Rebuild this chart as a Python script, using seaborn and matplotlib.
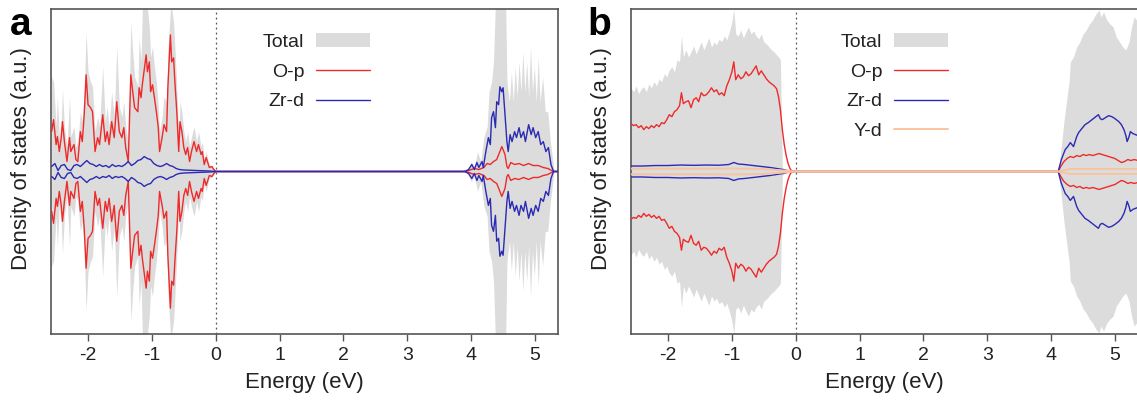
import numpy as np
import matplotlib
matplotlib.use("Agg")
import matplotlib.pyplot as plt
import seaborn as sns

# ---------------- panel a : energies (eV) and DOS (a.u., spin-up magnitude) ----------------
ea_op = [-2.57, -2.54, -2.50, -2.48, -2.45, -2.42, -2.40, -2.37, -2.33, -2.29,
         -2.27, -2.22, -2.19, -2.16, -2.12, -2.09, -2.06, -2.03, -2.00, -1.96,
         -1.93, -1.89, -1.85, -1.82, -1.77, -1.73, -1.70, -1.67, -1.63, -1.59,
         -1.55, -1.51, -1.47, -1.44, -1.41, -1.37, -1.33, -1.30, -1.27, -1.22,
         -1.20, -1.17, -1.15, -1.09, -1.07, -1.04, -1.02, -0.99, -0.96, -0.93,
         -0.90, -0.88, -0.84, -0.81, -0.77, -0.75, -0.71, -0.69, -0.66, -0.64,
         -0.61, -0.58, -0.56, -0.53, -0.50, -0.47, -0.44, -0.41, -0.38, -0.34,
         -0.30, -0.27, -0.23, -0.21, -0.18, -0.15, -0.10, -0.06, -0.03, 0.00,
         3.90, 3.96, 4.05, 4.12, 4.20, 4.25, 4.30, 4.35, 4.40, 4.45,
         4.48, 4.50, 4.53, 4.56, 4.58, 4.62, 4.68, 4.75, 4.82, 4.90,
         4.97, 5.05, 5.13, 5.20, 5.29, 5.36]
a_op = [0.40, 0.52, 0.27, 0.35, 0.20, 0.34, 0.50, 0.30, 0.10, 0.34,
        0.20, 0.27, 0.12, 0.10, 0.40, 0.30, 0.57, 0.97, 0.67, 0.64,
        0.60, 0.20, 0.34, 0.27, 0.57, 0.30, 0.40, 0.27, 0.50, 0.34,
        0.70, 0.40, 0.34, 0.44, 0.24, 0.10, 0.97, 0.80, 0.64, 0.60,
        0.84, 0.74, 0.87, 1.17, 1.00, 1.10, 0.80, 0.87, 0.74, 0.60,
        0.44, 0.20, 0.34, 0.47, 0.40, 0.84, 1.37, 1.10, 1.14, 0.90,
        0.60, 0.20, 0.50, 0.40, 0.24, 0.17, 0.24, 0.10, 0.20, 0.30,
        0.20, 0.27, 0.17, 0.20, 0.07, 0.14, 0.04, 0.05, 0.02, 0.00,
        0.00, 0.01, 0.03, 0.02, 0.04, 0.08, 0.07, 0.10, 0.12, 0.20,
        0.25, 0.22, 0.17, 0.05, 0.03, 0.09, 0.07, 0.08, 0.06, 0.08,
        0.06, 0.06, 0.04, 0.03, 0.00, 0.00]

ea_tot = ea_op[:80] + [3.90, 3.95, 4.00, 4.05, 4.10, 4.15, 4.20, 4.25, 4.28, 4.32,
                       4.35, 4.38, 4.42, 4.46, 4.50, 4.54, 4.56, 4.60, 4.63, 4.66,
                       4.69, 4.72, 4.75, 4.78, 4.81, 4.84, 4.87, 4.90, 4.93, 4.96,
                       4.99, 5.02, 5.05, 5.08, 5.12, 5.16, 5.20, 5.24, 5.28, 5.30, 5.36]
a_tot = [0.95, 0.90, 0.45, 0.75, 0.35, 0.50, 0.82, 0.45, 0.25, 0.75,
         0.35, 0.45, 0.25, 0.30, 0.60, 0.50, 0.80, 1.40, 1.00, 0.90,
         0.85, 0.40, 0.55, 0.45, 1.05, 0.50, 0.65, 0.45, 0.80, 0.55,
         1.25, 0.65, 0.55, 0.70, 0.45, 0.30, 1.50, 1.20, 0.95, 0.85,
         1.35, 1.10, 1.63, 1.63, 1.63, 1.45, 1.15, 1.25, 1.05, 0.90,
         0.65, 0.40, 0.55, 0.75, 0.70, 1.20, 1.63, 1.63, 1.50, 1.25,
         0.85, 0.35, 0.70, 0.60, 0.40, 0.30, 0.40, 0.25, 0.35, 0.45,
         0.30, 0.40, 0.25, 0.30, 0.12, 0.20, 0.06, 0.06, 0.03, 0.00,
         0.00, 0.03, 0.10, 0.05, 0.20, 0.10, 0.35, 0.45, 0.80, 0.90,
         1.10, 1.70, 1.70, 1.70, 1.70, 1.70, 0.90, 0.70, 1.00, 0.70,
         1.05, 0.75, 1.10, 0.80, 1.20, 0.80, 1.10, 0.75, 1.25, 0.80,
         1.05, 0.70, 1.15, 0.70, 0.95, 0.60, 0.60, 0.30, 0.10, 0.00, 0.00]

ea_zr = [-2.57, -2.52, -2.47, -2.42, -2.37, -2.32, -2.27, -2.22, -2.17, -2.12,
         -2.07, -2.02, -1.97, -1.92, -1.87, -1.82, -1.77, -1.72, -1.67, -1.62,
         -1.57, -1.52, -1.47, -1.42, -1.37, -1.32, -1.27, -1.22, -1.17, -1.12,
         -1.07, -1.02, -0.97, -0.92, -0.87, -0.82, -0.77, -0.72, -0.67, -0.62,
         -0.57, -0.50, -0.30, -0.10, 0.00, 3.90,
         3.96, 4.01, 4.05, 4.09, 4.12, 4.17, 4.19, 4.23, 4.27, 4.30,
         4.32, 4.35, 4.38, 4.40, 4.43, 4.45, 4.48, 4.50, 4.53, 4.56,
         4.58, 4.61, 4.64, 4.68, 4.71, 4.75, 4.78, 4.82, 4.85, 4.90,
         4.94, 4.97, 5.01, 5.05, 5.09, 5.13, 5.17, 5.21, 5.25, 5.29, 5.36]
a_zr = [0.05, 0.08, 0.01, 0.06, 0.07, 0.02, 0.01, 0.06, 0.07, 0.05,
        0.08, 0.11, 0.08, 0.07, 0.05, 0.07, 0.05, 0.06, 0.04, 0.07,
        0.05, 0.06, 0.05, 0.07, 0.10, 0.06, 0.08, 0.11, 0.12, 0.15,
        0.13, 0.12, 0.08, 0.06, 0.05, 0.06, 0.08, 0.06, 0.05, 0.03,
        0.02, 0.015, 0.01, 0.005, 0.0, 0.0,
        0.02, 0.07, 0.02, 0.09, 0.04, 0.10, 0.04, 0.20, 0.34, 0.27,
        0.54, 0.60, 0.44, 0.70, 0.67, 0.85, 0.80, 0.84, 0.57, 0.30,
        0.20, 0.37, 0.30, 0.40, 0.34, 0.44, 0.34, 0.40, 0.30, 0.47,
        0.37, 0.44, 0.34, 0.40, 0.27, 0.30, 0.20, 0.24, 0.07, 0.0, 0.0]

# ---------------- panel b ----------------
eb_vb = [-2.58, -2.54, -2.50, -2.46, -2.42, -2.38, -2.34, -2.30, -2.26, -2.22,
         -2.18, -2.14, -2.10, -2.06, -2.02, -1.98, -1.94, -1.90, -1.86, -1.82,
         -1.79, -1.76,
         -1.72, -1.68, -1.64, -1.60, -1.56, -1.52, -1.48, -1.44, -1.40, -1.36,
         -1.32, -1.28, -1.24, -1.20, -1.16, -1.12, -1.08, -1.04, -1.00,
         -0.97, -0.94,
         -0.90, -0.86, -0.82, -0.78, -0.74, -0.70, -0.66, -0.62, -0.58, -0.54,
         -0.50, -0.46, -0.42, -0.38, -0.34, -0.30,
         -0.27, -0.24, -0.21, -0.18, -0.15, -0.12, -0.09, -0.06]
eb_op = eb_vb + [4.11, 4.15, 4.20, 4.25, 4.30, 4.35, 4.40, 4.45, 4.50, 4.55,
                 4.60, 4.65, 4.70, 4.75, 4.80, 4.85, 4.90, 4.95, 5.00, 5.05,
                 5.10, 5.15, 5.20, 5.25, 5.30, 5.36]
b_op = [0.48, 0.46, 0.47, 0.44, 0.46, 0.42, 0.45, 0.43, 0.46, 0.44,
        0.47, 0.45, 0.49, 0.48, 0.52, 0.57, 0.55, 0.60, 0.62, 0.66,
        0.79, 0.68,
        0.70, 0.71, 0.64, 0.72, 0.74, 0.70, 0.79, 0.76, 0.77, 0.80,
        0.84, 0.80, 0.82, 0.77, 0.79, 0.76, 0.86, 0.92, 1.00,
        1.10, 0.92,
        0.97, 0.93, 0.95, 1.00, 0.96, 0.98, 1.02, 1.06, 0.97, 1.01,
        0.97, 0.93, 0.90, 0.88, 0.86, 0.83,
        0.75, 0.62, 0.42, 0.27, 0.16, 0.08, 0.03, 0.00,
        0.00, 0.05, 0.10, 0.13, 0.15, 0.14, 0.16, 0.15, 0.17, 0.16,
        0.17, 0.16, 0.17, 0.18, 0.17, 0.16, 0.15, 0.14, 0.13, 0.11,
        0.09, 0.10, 0.12, 0.11, 0.12, 0.11]

eb_tot = eb_vb + [4.11, 4.15, 4.20, 4.25, 4.28, 4.30, 4.35, 4.40, 4.45, 4.50,
                  4.55, 4.60, 4.65, 4.70, 4.75, 4.78, 4.82, 4.87, 4.92, 4.97,
                  5.02, 5.07, 5.12, 5.17, 5.22, 5.26, 5.30, 5.36]
b_tot = [0.84, 0.80, 0.86, 0.78, 0.83, 0.85, 0.80, 0.88, 0.84, 0.90,
         0.86, 0.93, 0.90, 0.98, 0.95, 1.02, 1.05, 1.00, 1.12, 1.10,
         1.36, 1.15,
         1.22, 1.15, 1.20, 1.26, 1.18, 1.24, 1.30, 1.22, 1.28, 1.34,
         1.25, 1.30, 1.27, 1.33, 1.30, 1.36, 1.32, 1.40, 1.50,
         1.63, 1.38,
         1.36, 1.42, 1.34, 1.40, 1.45, 1.38, 1.41, 1.36, 1.33, 1.38,
         1.30, 1.28, 1.25, 1.22, 1.20, 1.17,
         1.15, 1.12, 0.04, 0.02, 0.01, 0.00, 0.00, 0.00,
         0.00, 0.20, 0.50, 0.75, 0.90, 1.10, 1.15, 1.25, 1.30, 1.38,
         1.42, 1.48, 1.52, 1.58, 1.62, 1.55, 1.60, 1.52, 1.48, 1.45,
         1.35, 1.30, 1.25, 1.22, 1.30, 1.45, 1.55, 1.50]

eb_zr = [-2.58, -2.40, -2.20, -2.00, -1.80, -1.60, -1.40, -1.20, -1.05, -0.97,
         -0.90, -0.80, -0.60, -0.40, -0.20, -0.07,
         4.11, 4.16, 4.22, 4.26, 4.30, 4.35, 4.40, 4.43, 4.48, 4.53,
         4.58, 4.64, 4.70, 4.74, 4.77, 4.80, 4.85, 4.90, 4.95, 5.00,
         5.06, 5.10, 5.14, 5.17, 5.19, 5.22, 5.24, 5.28, 5.32, 5.36]
b_zr = [0.055, 0.055, 0.060, 0.060, 0.065, 0.062, 0.065, 0.063, 0.070, 0.090,
        0.075, 0.070, 0.055, 0.040, 0.020, 0.000,
        0.00, 0.12, 0.22, 0.25, 0.29, 0.25, 0.35, 0.39, 0.43, 0.47,
        0.49, 0.52, 0.55, 0.57, 0.53, 0.52, 0.54, 0.56, 0.55, 0.53,
        0.50, 0.47, 0.42, 0.36, 0.30, 0.35, 0.40, 0.38, 0.37, 0.36]

eb_yd = [-2.58, -1.50, -1.00, -0.50, -0.10, -0.05, 4.11, 4.30, 5.36]
b_yd = [0.028, 0.028, 0.030, 0.025, 0.006, 0.0, 0.0, 0.025, 0.025]

x_ticks = [-2, -1, 0, 1, 2, 3, 4, 5]
x_ticklabels = ["-2", "-1", "0", "1", "2", "3", "4", "5"]

# ---------------- style ----------------
sns.set_theme(style="white")
plt.rcParams["font.family"] = ["Liberation Sans", "DejaVu Sans"]
plt.rcParams["axes.unicode_minus"] = False

c_tot = "#dcdcdc"
c_op = "#ee2a2a"
c_zr = "#2a2ab4"
c_yd = "#f8c4a0"
txt = "#222222"

fig = plt.figure(figsize=(11.37, 4.05), dpi=100)
ax_a = fig.add_axes([51 / 1137, 71 / 405, 507 / 1137, 325 / 405])
ax_b = fig.add_axes([631 / 1137, 71 / 405, 507 / 1137, 325 / 405])


def spin_pair(ax, e, v, color, label, lw=1.0, z=3):
    sns.lineplot(x=e, y=v, ax=ax, color=color, linewidth=lw, estimator=None,
                 sort=False, label=label, zorder=z, legend=False)
    sns.lineplot(x=e, y=np.negative(v), ax=ax, color=color, linewidth=lw,
                 estimator=None, sort=False, zorder=z, legend=False)


def total_fill(ax, e, v):
    return ax.fill_between(e, np.negative(v), v, color=c_tot, lw=0,
                           zorder=1, label="Total")


def dress(ax, letter, xletter):
    ax.set_xlim(-2.58, 5.36)
    ax.set_ylim(-1.63, 1.63)
    ax.axvline(0, color="#555555", lw=0.9, ls=(0, (1.5, 2.5)), zorder=0)
    ax.set_xticks(x_ticks)
    ax.set_xticklabels(x_ticklabels)
    ax.set_yticks([])
    ax.tick_params(axis="x", direction="out", length=5, width=1.0,
                   color="#555555", labelsize=14, labelcolor=txt, pad=4,
                   bottom=True)
    for s in ax.spines.values():
        s.set_color("#555555")
        s.set_linewidth(1.2)
    ax.set_xlabel("Energy (eV)", fontsize=16, color=txt, labelpad=6)
    ax.set_ylabel("Density of states (a.u.)", fontsize=16, color=txt)
    ax.yaxis.set_label_coords(-0.037, 0.54)
    fig.text(xletter, 0.914, letter, fontsize=28, fontweight="bold",
             color="black")


legend_kw = dict(loc="upper right", frameon=False, markerfirst=False,
                 fontsize=14, handlelength=2.8, handletextpad=0.6,
                 labelspacing=0.62, borderpad=0, borderaxespad=0,
                 labelcolor=txt)

# panel a
total_fill(ax_a, ea_tot, a_tot)
spin_pair(ax_a, ea_op, a_op, c_op, "O-p")
spin_pair(ax_a, ea_zr, a_zr, c_zr, "Zr-d", z=4)
dress(ax_a, "a", 0.009)
h, l = ax_a.get_legend_handles_labels()
order = [l.index(k) for k in ["Total", "O-p", "Zr-d"]]
ax_a.legend([h[i] for i in order], [l[i] for i in order],
            bbox_to_anchor=(0.63, 0.925), **legend_kw)

# panel b
total_fill(ax_b, eb_tot, b_tot)
spin_pair(ax_b, eb_op, b_op, c_op, "O-p")
spin_pair(ax_b, eb_zr, b_zr, c_zr, "Zr-d", z=4)
spin_pair(ax_b, eb_yd, b_yd, c_yd, "Y-d", lw=1.4, z=5)
dress(ax_b, "b", 0.517)
h, l = ax_b.get_legend_handles_labels()
order = [l.index(k) for k in ["Total", "O-p", "Zr-d", "Y-d"]]
ax_b.legend([h[i] for i in order], [l[i] for i in order],
            bbox_to_anchor=(0.626, 0.925), **legend_kw)

fig.savefig("out.png", dpi=100)
